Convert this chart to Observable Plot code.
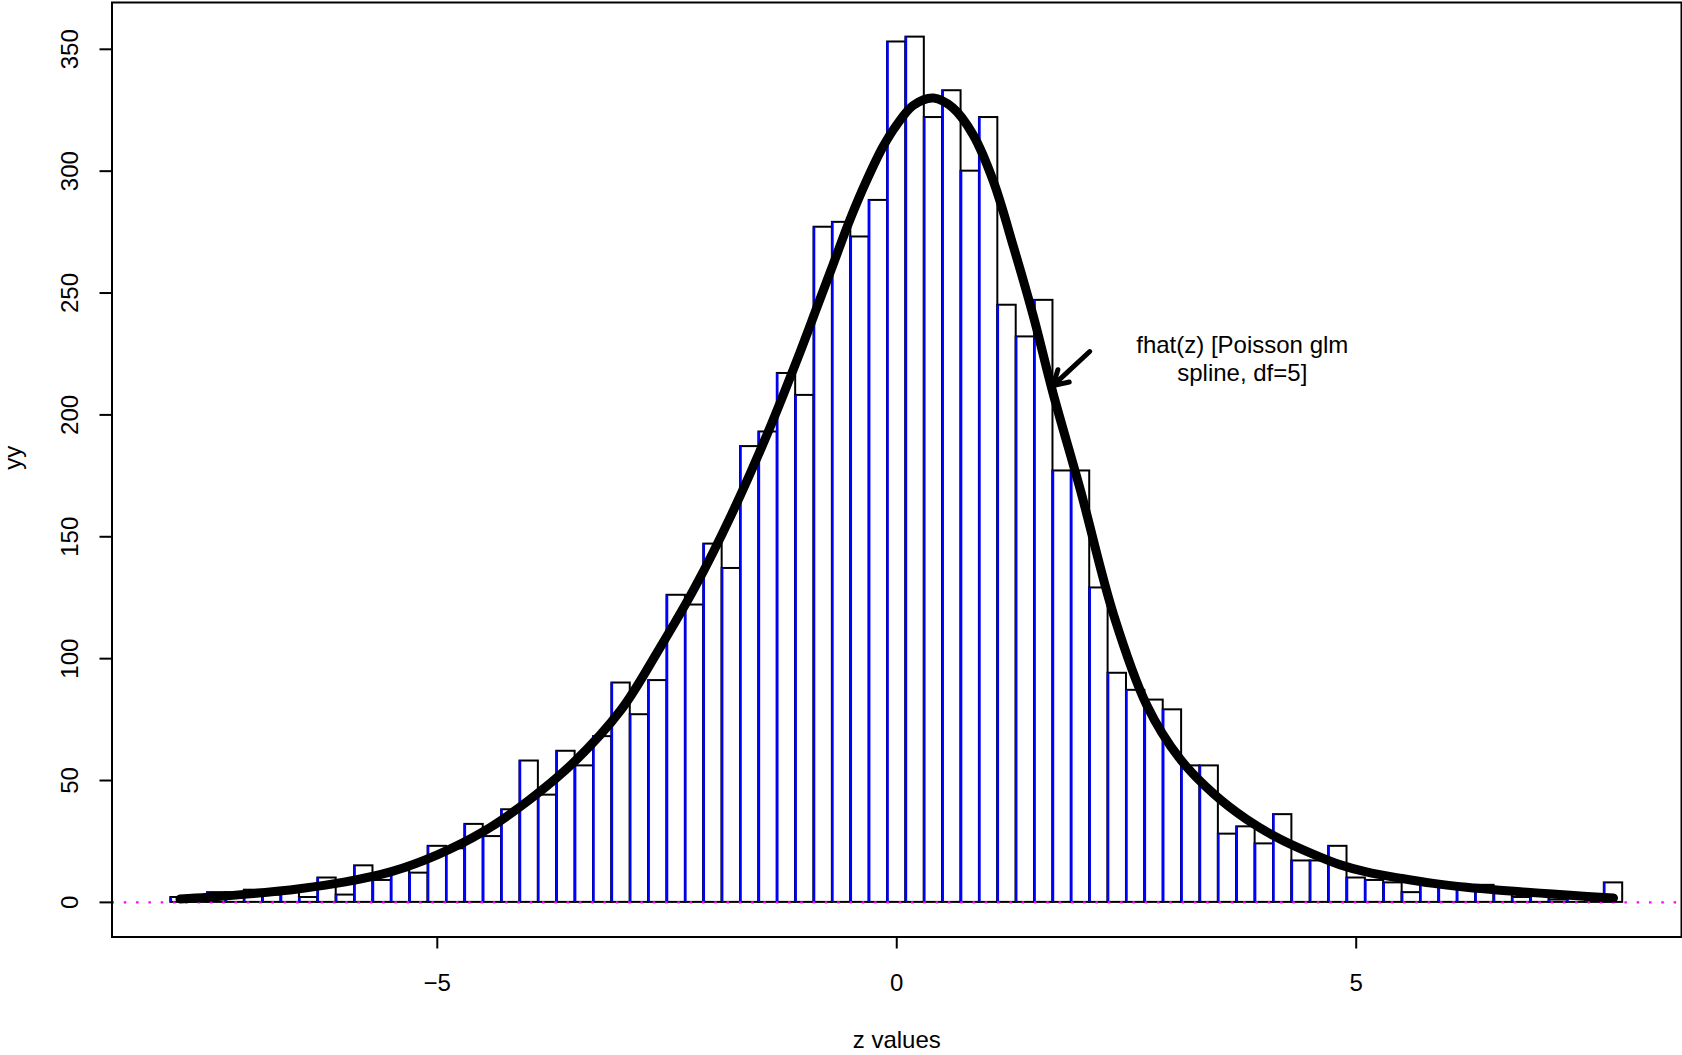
<!DOCTYPE html>
<html><head><meta charset="utf-8">
<script src="https://cdn.jsdelivr.net/npm/d3@7"></script>
<script src="https://cdn.jsdelivr.net/npm/@observablehq/plot@0.6"></script>
<style>
html,body{margin:0;padding:0;background:#fff;}
#chart svg{display:block;}
</style></head><body><div id="chart"></div>
<script>
// histogram counts for bins of width 0.2 starting at -7.9
const binStart = -7.9;
const binWidth = 0.2;
const counts = [2,1,4,4,5,3,4,2,10,3,
  15,9,13,12,23,22,32,27,38,58,
  44,62,56,68,90,77,91,126,122,147,
  137,187,193,217,208,277,279,273,288,353,
  355,322,333,300,322,245,232,247,177,177,
  129,94,87,83,79,56,56,28,31,24,
  36,17,17,23,10,9,8,4,8,7,
  6,7,5,2,3,1,2,2,8];

// fitted fhat(z) curve
const curveZ = [-7.8,-7.5,-7.0,-6.5,-6.0,-5.5,-5.0,-4.5,-4.0,-3.5,-3.0,-2.6,-2.2,-1.8,-1.4,-1.05,-0.87,-0.69,-0.51,-0.33,-0.15,0.0,0.18,0.4,0.61,0.83,1.05,1.27,1.49,1.7,2.0,2.36,2.72,3.08,3.45,3.81,4.17,4.53,4.82,5.11,5.5,5.84,6.2,6.56,7.0,7.29,7.8];
const curveF = [1.4,2.1,3.6,5.6,8.4,12.6,19.5,29,42,58,79,103,129,159,193,226,244,262,280,296,310,319,327,330,326,315,296,269,240,209,169,118,81,59,44.5,34,26,19.8,15.5,12.5,9.8,7.8,6.2,5,3.8,3,1.8];

const xTicks = [-5, 0, 5];
const yTicks = [0, 50, 100, 150, 200, 250, 300, 350];
const xDomain = [-8.54, 8.54];
const yDomain = [-14.2, 369.2];

const annotationLines = ["fhat(z) [Poisson glm", "spline, df=5]"];
const annotationAt = {z: 3.76, y: 223.4};
const arrowSpec = [{z1: 2.1, y1: 226, z2: 1.7, y2: 212}];

const bins = counts.map((n, i) => ({
  x1: +(binStart + i * binWidth).toFixed(1),
  x2: +(binStart + (i + 1) * binWidth).toFixed(1),
  n
}));
const curve = curveZ.map((z, i) => ({z, f: curveF[i]}));
const minus = d => (d < 0 ? "\u2212" + Math.abs(d) : String(d));

const font = "'Liberation Sans', Arial, Helvetica, sans-serif";

const chart = Plot.plot({
  width: 1682, height: 1055,
  marginLeft: 111.5, marginRight: 1, marginTop: 2, marginBottom: 118.5,
  style: {fontFamily: font, fontSize: "24px", background: "white", color: "black"},
  x: {domain: xDomain},
  y: {domain: yDomain},
  marks: [
    Plot.rect(bins, {x1: "x1", x2: "x2", y1: 0, y2: "n", fill: "none", stroke: "black", strokeWidth: 2}),
    Plot.ruleX(bins, {x: "x1", y1: 0, y2: "n", stroke: "blue", strokeWidth: 2.5}),
    Plot.ruleY([0], {stroke: "magenta", strokeWidth: 2.2, strokeDasharray: "2.5,9.8"}),
    Plot.line(curve, {x: "z", y: "f", stroke: "black", strokeWidth: 9, curve: "catmull-rom", strokeLinecap: "round", strokeLinejoin: "round"}),
    Plot.arrow(arrowSpec, {x1: "z1", y1: "y1", x2: "z2", y2: "y2", stroke: "black", strokeWidth: 5, headLength: 5, headAngle: 60, strokeLinecap: "round"}),
    Plot.text([annotationLines.join("\n")], {x: annotationAt.z, y: annotationAt.y, fontSize: 24, lineHeight: 1.2, textAnchor: "middle", fill: "black"}),
    Plot.frame({stroke: "black", strokeWidth: 2}),
    Plot.axisX(xTicks, {tickSize: 12, tickPadding: 24.6, tickFormat: minus, fontSize: 24, strokeWidth: 2, label: null}),
    Plot.axisY(yTicks, {tickSize: 12, tickFormat: () => "", strokeWidth: 2, label: null}),
    Plot.text(yTicks, {x: () => xDomain[0], y: d => d, text: d => String(d), dx: -41.8, rotate: -90, fontSize: 24, fill: "black"}),
    Plot.text(["z values"], {frameAnchor: "bottom", dy: 111, fontSize: 24, fill: "black"}),
    Plot.text(["yy"], {frameAnchor: "left", dx: -98.5, rotate: -90, fontSize: 24, fill: "black"})
  ]
});
document.getElementById("chart").appendChild(chart);
</script></body></html>
